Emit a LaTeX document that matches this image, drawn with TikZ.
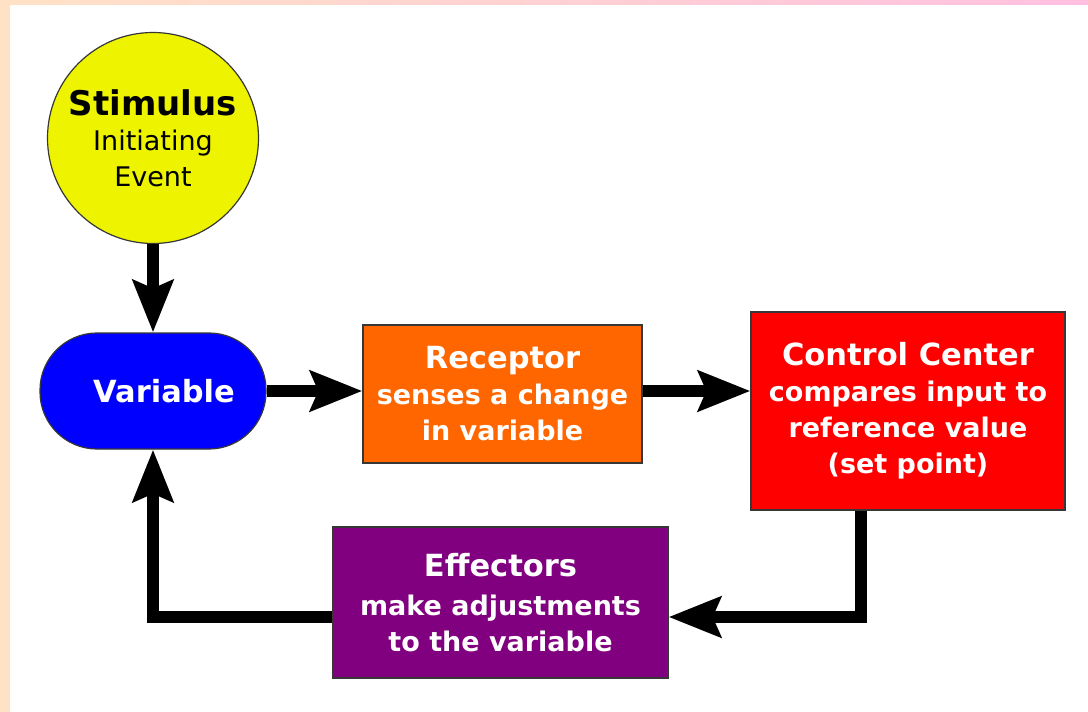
\documentclass[tikz,border=0pt]{standalone}
\usepackage{fontspec}
\setmainfont{DejaVu Sans}
\usetikzlibrary{arrows.meta,calc}
\definecolor{peach}{RGB}{255,226,198}
\definecolor{pinkb}{RGB}{255,192,224}
\definecolor{stimy}{RGB}{238,244,0}
\definecolor{varblue}{RGB}{0,0,255}
\definecolor{recor}{RGB}{255,102,0}
\definecolor{ctrlred}{RGB}{255,0,0}
\definecolor{effpur}{RGB}{128,0,128}
\definecolor{edgegray}{RGB}{55,55,55}
\newcommand\hdfont{\fontsize{30.5}{36}\selectfont\bfseries}
\newcommand\bdfont{\fontsize{27}{36}\selectfont\bfseries}
\begin{document}
\begin{tikzpicture}[x=1pt,y=-1pt,
  box/.style={draw=edgegray, line width=1.2pt, inner sep=0pt, align=center, text=white, font=\bdfont},
  conn/.style={line width=12pt, -{Stealth[length=52pt,width=40pt,inset=8pt]}},
]
\useasboundingbox (0,0) rectangle (1088,712);
\fill[white] (0,0) rectangle (1088,712);
\shade[left color=peach, right color=pinkb] (0,0) rectangle (1088,4);
\fill[peach] (0,0) rectangle (10,712);

\node[circle, draw=edgegray, line width=1.2pt, fill=stimy, minimum size=211pt, inner sep=0pt,
      align=center, font=\fontsize{27}{36}\selectfont] (stim) at (153,138)
  {{\fontsize{34}{38}\selectfont\bfseries Stimulus}\\[-1pt]Initiating\\Event};

\node[box, fill=varblue, rounded corners=57pt, minimum width=226pt, minimum height=116pt,
      font=\hdfont] (var) at (153,391) {\hspace{22pt}Variable};

\node[box, fill=recor, minimum width=279pt, minimum height=138pt] (rec) at (502.5,394)
  {{\hdfont Receptor}\\senses a change\\in variable};

\node[box, fill=ctrlred, minimum width=314pt, minimum height=198pt] (ctrl) at (908,411)
  {{\hdfont Control Center}\\compares input to\\reference value\\(set point)};

\node[box, fill=effpur, minimum width=335pt, minimum height=151pt] (eff) at (500.5,602.5)
  {{\hdfont Effectors}\\[3pt]make adjustments\\to the variable};

\coordinate (ly) at (0,617);
\coordinate (cs) at ($(ctrl.south west)!0.35!(ctrl.south east)$);

\draw[conn] (stim.south) -- (var.north);
\draw[conn] (var.east) -- (var.east -| rec.west);
\draw[conn] (rec.east |- var.east) -- (ctrl.west |- var.east);
\draw[conn] (cs) |- (eff.east |- ly);
\draw[conn] (eff.west |- ly) -| (var.south);
\end{tikzpicture}
\end{document}
